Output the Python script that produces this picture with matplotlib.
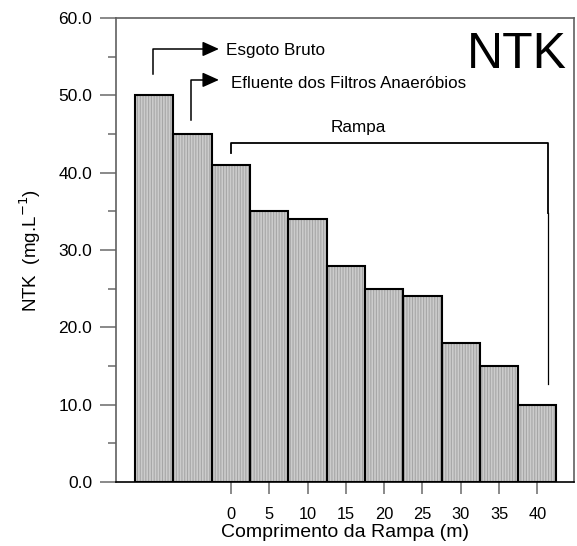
import matplotlib
matplotlib.use('Agg')
import matplotlib.pyplot as plt
from matplotlib.ticker import MultipleLocator

plt.rcParams['font.family'] = ['Liberation Sans', 'DejaVu Sans']
plt.rcParams['hatch.linewidth'] = 0.8

# posição das barras (m) e valores de NTK (mg/L)
posicoes = [-10, -5, 0, 5, 10, 15, 20, 25, 30, 35, 40]
ntk = [50, 45, 41, 35, 34, 28, 25, 24, 18, 15, 10]
rotulos_x = [0, 5, 10, 15, 20, 25, 30, 35, 40]
rotulos_y = [0, 10, 20, 30, 40, 50, 60]

fig = plt.figure(figsize=(5.77, 5.46), dpi=100)
ax = fig.add_axes([0.201, 0.117, 0.794, 0.850])

# preenchimento com listras finas (a cor da hachura vem da cor da borda)
ax.bar(posicoes, ntk, width=5, facecolor='#cccccc', edgecolor='#a6a6a6',
       linewidth=0, hatch='||||||', zorder=2)
# contorno preto
ax.bar(posicoes, ntk, width=5, facecolor='none', edgecolor='black',
       linewidth=1.5, zorder=3)

ax.set_xlim(-15.0, 44.8)
ax.set_ylim(0, 60)
ax.set_xticks(rotulos_x)
ax.set_xticklabels([str(v) for v in rotulos_x])
ax.set_yticks(rotulos_y)
ax.set_yticklabels(['%.1f' % v for v in rotulos_y])
ax.yaxis.set_minor_locator(MultipleLocator(5))

ax.tick_params(axis='both', which='both', direction='out', color='#6a6a6a',
               width=1.1)
ax.tick_params(axis='y', which='major', length=11.5, pad=5.5, labelsize=12.5)
ax.tick_params(axis='y', which='minor', length=5.8)
ax.tick_params(axis='x', which='major', length=8.6, pad=9, labelsize=11.8)

for lado in ['left', 'top', 'right']:
    ax.spines[lado].set_color('#606060')
    ax.spines[lado].set_linewidth(1.2)
ax.spines['bottom'].set_color('black')
ax.spines['bottom'].set_linewidth(1.2)

ax.set_xlabel('Comprimento da Rampa (m)', fontsize=14, labelpad=1.5)
ax.set_ylabel('NTK  (mg.L$^{-1}$)', fontsize=13.5, labelpad=11)

# setas das anotações
seta = dict(arrowstyle='-|>,head_length=1.0,head_width=0.45',
            color='black', lw=1.1)
ax.plot([-10.2, -10.2, -2.9], [52.8, 56.0, 56.0], color='black', lw=1.1)
ax.annotate('', xy=(-1.2, 56.0), xytext=(-3.0, 56.0), arrowprops=seta)
ax.text(-0.6, 55.8, 'Esgoto Bruto', fontsize=12.3, va='center', ha='left')

ax.plot([-5.2, -5.2, -2.9], [46.8, 52.0, 52.0], color='black', lw=1.1)
ax.annotate('', xy=(-1.2, 52.0), xytext=(-3.0, 52.0), arrowprops=seta)
ax.text(0.0, 51.5, 'Efluente dos Filtros Anaeróbios', fontsize=12.2,
        va='center', ha='left')

# chave da rampa
ax.plot([0, 0, 41.4, 41.4], [42.5, 43.8, 43.8, 34.8], color='black', lw=1.3)
ax.plot([41.4, 41.4], [34.8, 12.7], color='black', lw=0.9)
ax.text(16.6, 45.9, 'Rampa', fontsize=12.3, ha='center', va='center')

ax.text(43.8, 55.2, 'NTK', fontsize=36, ha='right', va='center')

fig.savefig('out.png', dpi=100)
